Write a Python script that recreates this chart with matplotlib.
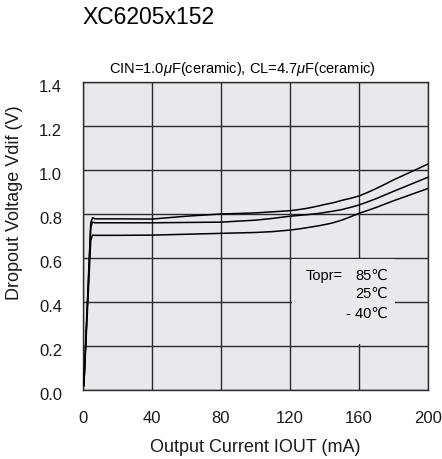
import matplotlib
matplotlib.use('Agg')
import matplotlib.pyplot as plt
from matplotlib.patches import Rectangle
from matplotlib.transforms import ScaledTranslation

plt.rcParams['font.family'] = ['Liberation Sans', 'DejaVu Sans']
plt.rcParams['mathtext.fontset'] = 'custom'
plt.rcParams['mathtext.it'] = 'Liberation Sans:italic'
plt.rcParams['mathtext.rm'] = 'Liberation Sans'

# dropout voltage curves (mA, V)
iout_85 = [0.5, 4.5, 5.5, 7, 20, 40, 60, 80, 100, 120, 125, 130, 135, 140, 145, 150,
           155, 160, 165, 170, 175, 180, 190, 200]
vdif_85 = [0.02, 0.76, 0.783, 0.778, 0.778, 0.777, 0.79, 0.80, 0.805, 0.815, 0.82, 0.826,
           0.834, 0.843, 0.851, 0.862, 0.871, 0.882, 0.898, 0.916, 0.935, 0.955, 0.991, 1.027]

iout_25 = [0.5, 4.5, 5.5, 7, 20, 40, 80, 100, 110, 120, 130, 137, 145, 150, 155, 160,
           165, 170, 180, 190, 200]
vdif_25 = [0.02, 0.74, 0.763, 0.760, 0.760, 0.760, 0.763, 0.772, 0.78, 0.79, 0.797, 0.803,
           0.813, 0.82, 0.83, 0.841, 0.855, 0.87, 0.903, 0.935, 0.967]

iout_m40 = [0.5, 4.5, 5.5, 7, 20, 40, 75, 100, 110, 120, 125, 130, 137, 144, 150, 155,
            160, 165, 170, 180, 190, 200]
vdif_m40 = [0.02, 0.68, 0.704, 0.703, 0.703, 0.704, 0.711, 0.716, 0.72, 0.727, 0.732, 0.738,
            0.747, 0.758, 0.772, 0.787, 0.803, 0.816, 0.83, 0.86, 0.888, 0.916]

xticks = [0, 40, 80, 120, 160, 200]
yticks = [0.0, 0.2, 0.4, 0.6, 0.8, 1.0, 1.2, 1.4]
temps = ['85℃', '25℃', '- 40℃']

bg = '#e9e9ed'
gridc = '#2b2b2b'

fig = plt.figure(figsize=(4.42, 4.59), dpi=100)
ax = fig.add_axes([83 / 442, 69 / 459, 345 / 442, 308 / 459])
ax.set_facecolor(bg)

for x, y in [(iout_85, vdif_85), (iout_25, vdif_25), (iout_m40, vdif_m40)]:
    ax.plot(x, y, color='black', lw=1.1, zorder=3)

ax.set_xlim(0, 200)
ax.set_ylim(0, 1.4)
ax.set_xticks(xticks)
ax.set_yticks(yticks)
ax.set_yticklabels([f'{v:.1f}' for v in yticks])
ax.set_axisbelow(True)
ax.grid(True, color=gridc, lw=1.0)
for s in ax.spines.values():
    s.set_color(gridc)
    s.set_linewidth(1.0)
ax.tick_params(length=0, labelsize=12, pad=15, colors='#1a1a1a')
for lbl in ax.get_yticklabels():
    lbl.set_transform(lbl.get_transform() + ScaledTranslation(0, -4 / 100, fig.dpi_scale_trans))

# box behind the temperature legend hides the grid
ax.add_patch(Rectangle((121.3, 0.209), 59.7, 0.386, facecolor=bg, edgecolor='none', zorder=1))
ax.text(128.8, 0.52, 'Topr=', fontsize=10.5, va='center', ha='left', zorder=4)
for t, yy in zip(temps, [0.52, 0.436, 0.345]):
    ax.text(176.6, yy, t, fontsize=10.5, va='center', ha='right', zorder=4)

ax.set_xlabel('Output Current IOUT (mA)', fontsize=13, color='#1a1a1a')
ax.xaxis.set_label_coords(0.5, -0.16)
ax.set_ylabel('Dropout Voltage Vdif (V)', fontsize=13, color='#1a1a1a')
ax.yaxis.set_label_coords(-0.175, 0.607)

fig.text(82 / 442, 1 - 17.5 / 459, 'XC6205x152', fontsize=16.5, ha='left', va='center')
fig.text(242.5 / 442, 1 - 69 / 459, r'CIN=1.0$\mathit{\mu}$F(ceramic), CL=4.7$\mathit{\mu}$F(ceramic)',
         fontsize=10.5, ha='center', va='center')

fig.savefig('out.png', dpi=100)
